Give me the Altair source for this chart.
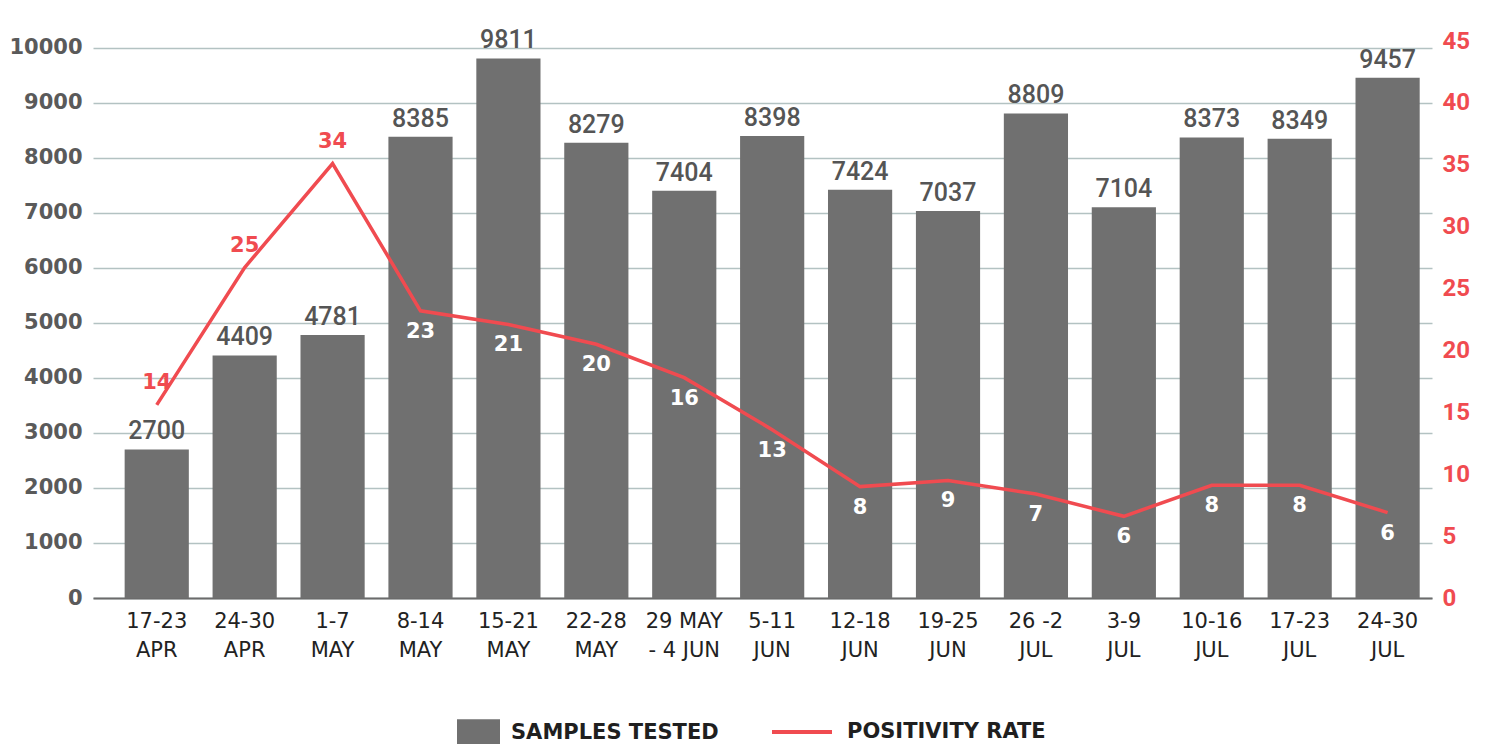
import altair as alt
import pandas as pd

weeks = ["17-23|APR", "24-30|APR", "1-7|MAY", "8-14|MAY", "15-21|MAY", "22-28|MAY",
         "29 MAY|- 4 JUN", "5-11|JUN", "12-18|JUN", "19-25|JUN", "26 -2|JUL",
         "3-9|JUL", "10-16|JUL", "17-23|JUL", "24-30|JUL"]
samples = [2700, 4409, 4781, 8385, 9811, 8279, 7404, 8398, 7424, 7037, 8809, 7104, 8373, 8349, 9457]
rate = [15.6, 26.7, 35.1, 23.2, 22.1, 20.5, 17.8, 13.6, 9.0, 9.5, 8.4, 6.6, 9.1, 9.1, 6.9]
rate_labels = [14, 25, 34, 23, 21, 20, 16, 13, 8, 9, 7, 6, 8, 8, 6]
left_ticks = [0, 1000, 2000, 3000, 4000, 5000, 6000, 7000, 8000, 9000, 10000]
right_ticks = [0, 5, 10, 15, 20, 25, 30, 35, 40, 45]

GRAY = "#707070"
RED = "#f04b50"
FONT = "DejaVu Sans"
NUMFONT = "Roboto"

df = pd.DataFrame({
    "week": weeks,
    "samples": samples,
    "rate": rate,
    "rate_label": rate_labels,
    "idx": list(range(len(weeks))),
    "s1": "SAMPLES TESTED",
    "s2": "POSITIVITY RATE",
})

x = alt.X("week:N", sort=weeks, title=None,
          scale=alt.Scale(paddingInner=0.27, paddingOuter=0.25, align=0.72),
          axis=alt.Axis(labelExpr="split(datum.label, '|')", labelAngle=0,
                        labelFont=FONT, labelFontSize=21, labelColor="#222222",
                        labelLineHeight=29, labelPadding=12, labelBaseline="top",
                        ticks=False, domain=True, domainColor="#6b6b6b", domainWidth=2))

yl_scale = alt.Scale(domain=[0, 10127], nice=False, zero=True)
yr_scale = alt.Scale(domain=[0, 45], nice=False, zero=True)

yl_axis = alt.Axis(values=left_ticks, format="d", grid=True, gridColor="#b3c2c2", gridWidth=1.5,
                   domain=False, ticks=False, labelFont=FONT, labelFontSize=21,
                   labelFontWeight="bold", labelColor="#5a5a5a", labelPadding=11)
yr_axis = alt.Axis(orient="right", values=right_ticks, format="d", grid=False, domain=False,
                   ticks=False, labelFont=NUMFONT, labelFontSize=24,
                   labelFontWeight="bold", labelColor=RED, labelPadding=10)

base = alt.Chart(df)

bars = base.mark_bar().encode(
    x=x,
    y=alt.Y("samples:Q", scale=yl_scale, title=None, axis=yl_axis),
    fill=alt.Fill("s1:N", scale=alt.Scale(domain=["SAMPLES TESTED"], range=[GRAY]),
                  legend=alt.Legend(title=None, orient="none", legendX=364, legendY=670,
                                    symbolType="M-1,-0.62H1V0.62H-1Z", symbolSize=1849,
                                    symbolStrokeWidth=0, symbolOpacity=1, labelLimit=400,
                                    labelFont=FONT, labelFontSize=21, labelFontWeight="bold",
                                    labelColor="#1f1f1f", labelOffset=11, padding=0)),
)

bar_labels = base.mark_text(baseline="bottom", dy=-5, font=NUMFONT, fontSize=25,
                            fontWeight=500, color="#555555").encode(
    x=x,
    y=alt.Y("samples:Q", scale=yl_scale, title=None, axis=yl_axis),
    text=alt.Text("samples:Q", format="d"),
)

line = base.mark_line(strokeWidth=3.5).encode(
    x=x,
    y=alt.Y("rate:Q", scale=yr_scale, title=None, axis=yr_axis),
    stroke=alt.Stroke("s2:N", scale=alt.Scale(domain=["POSITIVITY RATE"], range=[RED]),
                      legend=alt.Legend(title=None, orient="none", legendX=677, legendY=659,
                                        symbolType="stroke", symbolSize=3600,
                                        symbolStrokeWidth=4, labelLimit=400,
                                        labelFont=FONT, labelFontSize=21, labelFontWeight="bold",
                                        labelColor="#1f1f1f", labelOffset=13, padding=0)),
)

red_labels = base.transform_filter("datum.idx < 3").mark_text(
    baseline="middle", dy=-22, font=FONT, fontSize=21, fontWeight="bold", color=RED
).encode(
    x=x,
    y=alt.Y("rate:Q", scale=yr_scale, title=None, axis=yr_axis),
    text=alt.Text("rate_label:Q", format="d"),
)

white_labels = base.transform_filter("datum.idx >= 3").mark_text(
    baseline="middle", dy=21, font=FONT, fontSize=21, fontWeight="bold", color="white"
).encode(
    x=x,
    y=alt.Y("rate:Q", scale=yr_scale, title=None, axis=yr_axis),
    text=alt.Text("rate_label:Q", format="d"),
)

left = alt.layer(bars, bar_labels)
right = alt.layer(line, red_labels, white_labels)

chart = alt.layer(left, right).resolve_scale(y="independent").properties(
    width=1339, height=557,
    autosize=alt.AutoSizeParams(type="none"),
    padding={"left": 85, "top": 33, "right": 50, "bottom": 146},
).configure_view(stroke=None)

chart.save("out.html", embed_options={"renderer": "svg", "actions": False})
